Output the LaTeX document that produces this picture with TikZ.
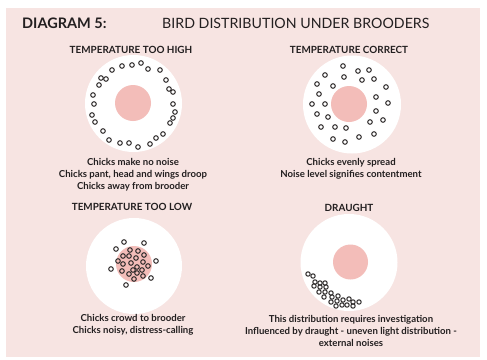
\documentclass[tikz,border=0pt]{standalone}
\usepackage{fontspec}
\setmainfont{Lato}
\usepackage{tikz}
\usetikzlibrary{positioning}
\definecolor{PanelPink}{RGB}{247,228,226}
\definecolor{HeatPink}{RGB}{243,189,185}
\definecolor{ChickGray}{RGB}{45,42,42}
\definecolor{InkGray}{RGB}{35,31,32}

\begin{document}
\begin{tikzpicture}[x=1pt, y=-1pt,
    brooder/.style={circle, fill=white, inner sep=0pt},
    lamp/.style={circle, fill=HeatPink, inner sep=0pt},
    chick/.style={draw=ChickGray, line width=1pt},
    heading/.style={inner sep=0pt, text=InkGray, font=\bfseries\fontsize{9.9}{11}\selectfont},
    caption/.style={inner sep=0pt, anchor=north, align=center, text=InkGray, font=\bfseries\fontsize{9.6}{12.3}\selectfont}]
    \useasboundingbox (0,0) rectangle (487,359);
    % panel
    \fill[PanelPink] (6,8) rectangle (480,357);

    % title
    \node[inner sep=0pt, anchor=west, text=InkGray, font=\bfseries\fontsize{14.5}{16}\selectfont] (diagNo) at (22,23) {DIAGRAM 5:};
    \node[inner sep=0pt, anchor=west, text=InkGray, font=\fontsize{14.2}{16}\selectfont] (diagTitle) at (162,23) {BIRD DISTRIBUTION UNDER BROODERS};

    % brooders
    \node[brooder, minimum size=97pt] (high) at (133.5,103.5) {};
    \node[lamp, minimum size=36pt] (highLamp) at (133,103) {};
    \node[brooder, minimum size=98pt] (correct) at (352,104.5) {};
    \node[lamp, minimum size=36pt] (correctLamp) at (349,104) {};
    \node[brooder, minimum size=96pt] (low) at (134,266) {};
    \node[lamp, minimum size=36pt] (lowLamp) at (134,264) {};
    \node[brooder, minimum size=97pt] (draught) at (349,262.5) {};
    \node[lamp, minimum size=35pt] (draughtLamp) at (350.5,262) {};

    % chicks, too hot
    \foreach \cx/\cy in {112/70, 122/66, 132/65, 141/63, 148/69, 160/70, 101/78, 106/79, 99/85,
        166/80, 169/89, 173/92, 93/95, 94/104, 173/104, 175/112, 92/115, 173/118, 95/122, 170/123,
        103/131, 163/134, 156/138, 109/140, 120/143, 129/143, 138/147, 150/144}
        \draw[chick] (\cx,\cy) circle (2.3pt);
    % chicks, correct
    \foreach \cx/\cy in {343/66, 325/75, 344/77, 358/71, 369/70, 362/80, 374/79, 317/84, 333/86,
        386/87, 319/94, 376/97, 312/104, 325/104, 388/103, 376/111, 317/114, 328/117, 383/120,
        370/122, 321/127, 335/127, 346/128, 374/134, 359/137, 333/139, 345/142}
        \draw[chick] (\cx,\cy) circle (2.3pt);
    % chicks, too cold
    \foreach \cx/\cy in {124/242, 144/243, 116/249, 130/250, 138/251, 123/256, 129/256, 136/258,
        144/255, 118/261, 123/264, 131/263, 137/267, 143/262, 148/266, 156/261, 111/269, 122/271,
        133/270, 142/270, 129/274, 137/273, 143/276, 151/278, 134/279, 126/285}
        \draw[chick] (\cx,\cy) circle (2.3pt);
    % chicks, draught
    \foreach \cx/\cy in {308/274, 313/276, 315/282, 320/283, 325/283, 314/286, 320/287, 326/287,
        319/292, 325/292, 331/293, 324/297, 332/297, 338/296, 331/302, 337/301, 343/300, 349/299,
        336/306, 342/305, 347/305, 353/302, 359/302, 353/306}
        \draw[chick] (\cx,\cy) circle (2.2pt);

    % headings
    \node[heading] (highHead) at (131,50) {TEMPERATURE TOO HIGH};
    \node[heading] (correctHead) at (349,50) {TEMPERATURE CORRECT};
    \node[heading] (lowHead) at (132,207) {TEMPERATURE TOO LOW};
    \node[heading] (draughtHead) at (349,208) {DRAUGHT};

    % captions
    \node[caption] (highText) at (133,158) {Chicks make no noise\\Chicks pant, head and wings droop\\Chicks away from brooder};
    \node[caption] (correctText) at (351,158) {Chicks evenly spread\\Noise level signifies contentment};
    \node[caption] (lowText) at (133,314) {Chicks crowd to brooder\\Chicks noisy, distress-calling};
    \node[caption] (draughtText) at (351,315) {This distribution requires investigation\\Influenced by draught - uneven light distribution -\\external noises};
\end{tikzpicture}
\end{document}
